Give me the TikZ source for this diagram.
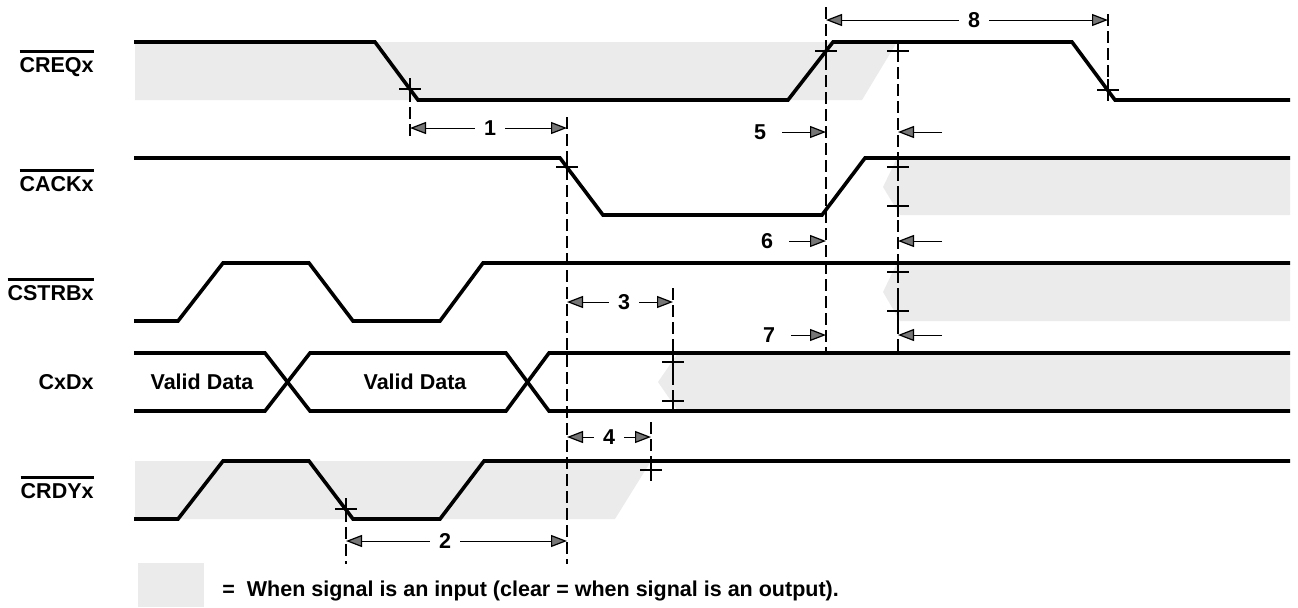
\documentclass[tikz,border=0pt]{standalone}
\usepackage{fontspec}
\setmainfont{Liberation Sans}
\usetikzlibrary{arrows.meta}
\definecolor{shadegray}{HTML}{EBEBEB}
\definecolor{tipgray}{HTML}{767676}
\newcommand\ovl[1]{\vbox{\hrule height 1.5pt\vskip 2pt\hbox{#1}}}
\tikzset{
  dimtip/.tip={Triangle[length=8pt,width=6pt,fill=tipgray,line width=0.6pt]},
  sig/.style={line width=1.8pt},
  shade/.style={fill=shadegray,draw=none},
  guide/.style={line width=0.55pt,dash pattern=on 6pt off 2.5pt},
  dim/.style={line width=0.5pt},
  lbl/.style={font=\bfseries\fontsize{10.75}{12}\selectfont,anchor=base east,inner sep=0pt},
  num/.style={font=\bfseries\fontsize{10.75}{12}\selectfont,inner sep=0pt},
  txt/.style={font=\bfseries\fontsize{10.75}{12}\selectfont,inner sep=0pt},
  pics/crossmark/.style={code={\draw[line width=0.6pt] (-11,0)--(11,0) (0,-11)--(0,11);}}
}
\begin{document}
\begin{tikzpicture}[x=0.5pt,y=-0.5pt]
\useasboundingbox (0,0) rectangle (1298,607);

% ---- shaded "input" regions
\fill[shade] (135,42) -- (897,42) -- (862,100) -- (135,100) -- cycle;
\fill[shade] (897,158) -- (1290,158) -- (1290,215) -- (900,215) -- (883,187) -- cycle;
\fill[shade] (897,263) -- (1290,263) -- (1290,321) -- (900,321) -- (883,292) -- cycle;
\fill[shade] (678,353) -- (1290,353) -- (1290,411) -- (678,411) -- (658,382) -- cycle;
\fill[shade] (135,461) -- (651,461) -- (615,519) -- (135,519) -- cycle;

% ---- guide lines
\draw[guide] (410,90) -- (410,138);
\draw[guide] (567,117) -- (567,564);
\draw[guide] (826,7) -- (826,353);
\draw[guide] (898,50) -- (898,353);
\draw[guide] (1108,14) -- (1108,90);
\draw[guide] (673,288) -- (673,411);
\draw[guide] (651,422) -- (651,480);
\draw[guide] (346,510) -- (346,564);

% ---- signal labels
\node[lbl] (lreq) at (94,72) {\ovl{CREQx}};
\node[lbl] (lack) at (94,191) {\ovl{CACKx}};
\node[lbl] (lstr) at (94,300) {\ovl{CSTRBx}};
\node[lbl] (ldat) at (94,389) {CxDx};
\node[lbl] (lrdy) at (94,498) {\ovl{CRDYx}};

% ---- waveforms
\draw[sig] (134,42) -- (375,42) -- (418,100) -- (788,100) -- (833,42) -- (1072,42) -- (1115,100) -- (1290,100);
\draw[sig] (134,158) -- (560,158) -- (603,215) -- (822,215) -- (865,158) -- (1290,158);
\draw[sig] (134,321) -- (178,321) -- (223,263) -- (309,263) -- (353,321) -- (440,321) -- (483,263) -- (1290,263);
\draw[sig] (134,353) -- (265,353) -- (310,411) -- (506,411) -- (549,353) -- (1290,353);
\draw[sig] (134,411) -- (265,411) -- (310,353) -- (506,353) -- (549,411) -- (1290,411);
\draw[sig] (134,519) -- (178,519) -- (223,461) -- (309,461) -- (353,519) -- (440,519) -- (484,461) -- (1290,461);

\node[txt] (vd1) at (202,382) {Valid Data};
\node[txt] (vd2) at (415,382) {Valid Data};

% ---- cross marks
\foreach \p in {(410,89),(567,167),(826,51),(898,51),(1108,90),
                (898,167),(898,206),(898,272),(898,311),
                (673,362),(673,401),(651,470),(346,509)}
  \pic at \p {crossmark};

% ---- dimension arrows
\coordinate (a1l) at (410,128);  \coordinate (a1r) at (567,128);
\coordinate (a8l) at (826,20);   \coordinate (a8r) at (1108,20);
\coordinate (a3l) at (567,302);  \coordinate (a3r) at (673,302);
\coordinate (a4l) at (567,437);  \coordinate (a4r) at (651,437);
\coordinate (a2l) at (346,541);  \coordinate (a2r) at (567,541);
\coordinate (a5) at (826,132);   \coordinate (b5) at (898,132); \coordinate (c5) at (942,132);
\coordinate (a6) at (826,241);   \coordinate (b6) at (898,241); \coordinate (c6) at (942,241);
\coordinate (a7) at (826,335);   \coordinate (b7) at (898,335); \coordinate (c7) at (942,335);

\node[num] (n1) at (490,128) {1};
\node[num] (n8) at (974,20) {8};
\node[num] (n3) at (624,302) {3};
\node[num] (n4) at (609,437) {4};
\node[num] (n2) at (445,541) {2};
\node[num] (n5) at (760,132) {5};
\node[num] (n6) at (767,241) {6};
\node[num] (n7) at (769,335) {7};

\foreach \n/\l/\r in {n1/a1l/a1r,n8/a8l/a8r,n3/a3l/a3r,n4/a4l/a4r,n2/a2l/a2r}{
  \draw[dim,-{dimtip},shorten <=4.5pt] (\n) -- (\l);
  \draw[dim,-{dimtip},shorten <=4.5pt] (\n) -- (\r);
}
\foreach \n/\a/\b/\c in {n5/a5/b5/c5,n6/a6/b6/c6,n7/a7/b7/c7}{
  \draw[dim,-{dimtip},shorten <=8pt] (\n) -- (\a);
  \draw[dim,-{dimtip}] (\c) -- (\b);
}

% ---- legend
\node[shade,minimum width=33pt,minimum height=22pt,inner sep=0pt,anchor=north west] (key) at (138,563) {};
\node[txt,anchor=base west] (keytxt) at (222,596) {=~~When signal is an input (clear = when signal is an output).};
\end{tikzpicture}
\end{document}
